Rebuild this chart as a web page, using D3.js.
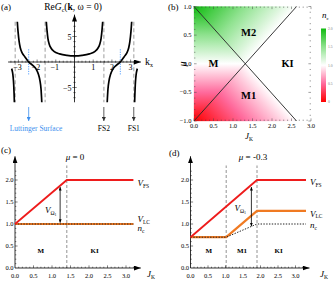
<!DOCTYPE html>
<html><head><meta charset="utf-8">
<script src="https://cdn.jsdelivr.net/npm/d3@7"></script>
<style>
body{margin:0;background:#fff}
svg{display:block;font-family:"Liberation Serif","Times New Roman",serif}
</style>
</head><body>
<svg id="c" width="336" height="282"></svg>
<script>
// ---------------- DATA ----------------
// Panel (a): Re G_c(k, w=0) branches (k, value)
const kCenter = [-1.52,-1.47,-1.42,-1.35,-1.25,-1.1,-0.8,-0.4,0,0.4,0.8,1.1,1.25,1.35,1.42,1.47,1.52];
const gCenter = [8.5,6.2,4.6,3.5,2.7,2.1,1.6,1.3,1.2,1.3,1.6,2.1,2.7,3.5,4.6,6.2,8.5];
const kLeftInner = [-3.07,-3.02,-2.96,-2.9,-2.8,-2.65,-2.45,-2.25,-2.05,-1.93,-1.85,-1.79,-1.74];
const gLeftInner = [8.5,6.0,4.0,2.8,1.8,1.0,0,-0.6,-1.4,-2.4,-3.6,-5.3,-8.5];
const kRightInner = [1.74,1.79,1.85,1.93,2.05,2.25,2.45,2.65,2.8,2.9,2.96,3.02,3.07];
const gRightInner = [-8.5,-5.3,-3.6,-2.4,-1.4,-0.6,0,1.0,1.8,2.8,4.0,6.0,8.5];
const kLeftOuter = [-3.36,-3.31,-3.28,-3.25,-3.23,-3.21];
const gLeftOuter = [-1.3,-2.1,-3.0,-4.5,-6.2,-8.5];
const kRightOuter = [3.21,3.23,3.25,3.28,3.31,3.36];
const gRightOuter = [-8.5,-6.2,-4.5,-3.0,-2.1,-1.3];
const kPoles = [-3.17,-1.57,1.57,3.17];
const kZeros = [-2.45,2.45];
const kTicksA = [-3,-2,-1,1,2,3];
const gTicksA = [5,-5];
const surfaceLabels = [
  {k:-2.45, text:"Luttinger Surface", blue:true},
  {k:1.57, text:"FS2", blue:false},
  {k:3.17, text:"FS1", blue:false}
];

// Panel (b): phase diagram, regions with n_c at their corners
const regionNames = ["M","M2","M1"];
const regionJ = [[0,1.315,0],[0,2.63,1.315],[0,1.315,2.63]];
const regionMu = [[1,0,-1],[1,1,0],[-1,0,-1]];
const regionNc = [[2,1,0],[2,1,1],[0,1,1]];
const boundaryJ = [[0,2.63],[0,2.63]];
const boundaryMu = [[1,-1],[-1,1]];
const phaseLabels = ["M2","M","KI","M1"];
const phaseLabelJ = [1.4,0.5,2.4,1.4];
const phaseLabelMu = [0.55,0,0,-0.55];
const ncStops = [0,0.5,1,1.5,2];
const ncColors = ["#ff0000","#ff6a9c","#ffffff","#8fe28f","#10bb10"];
const cbarTicks = ["0","0.5","1.0","1.5","2.0"];
const jTicks = [0,0.5,1,1.5,2,2.5,3];
const muTicks = [-1,-0.5,0,0.5,1];
const vTicks = [0,0.5,1,1.5,2];

// Panel (c): mu = 0
const jFS_c = [0,1.4,3.2], vFS_c = [1,2,2];
const jLC_c = [0,3.2], vLC_c = [1,1];
const jNc_c = [0,3.2], nc_c = [1,1];
const jTrans_c = [1.4];
const arrow_c = {j:1.22, from:1.84, to:1.03};
const phases_c = ["M","KI"], phasesJ_c = [0.7,2.15];

// Panel (d): mu = -0.3
const jFS_d = [0,1.9,3.3], vFS_d = [0.7,2,2];
const jLC_d = [0,1.02,1.9,3.3], vLC_d = [0.7,0.7,1.3,1.3];
const jNc_d = [0,1.02,1.9,3.3], nc_d = [0.7,0.7,1.0,1.0];
const jTrans_d = [1.02,1.9];
const arrow_d = {j:1.74, from:1.84, to:0.95};
const phases_d = ["M","M1","KI"], phasesJ_d = [0.52,1.47,2.52];

// ---------------- DRAWING ----------------
const svg = d3.select("#c");
const defs = svg.append("defs");
function marker(id, len, wid, color){
  defs.append("marker").attr("id",id).attr("viewBox",`0 0 ${len} ${wid}`)
    .attr("refX",len).attr("refY",wid/2).attr("markerWidth",len).attr("markerHeight",wid)
    .attr("markerUnits","userSpaceOnUse").attr("orient","auto-start-reverse")
    .append("path").attr("d",`M0,0 L${len},${wid/2} L0,${wid} z`).attr("fill",color);
}
marker("axh",7,5,"#000");
marker("sah",3.5,3,"#000");
marker("bah",4,4,"#3d8fee");
marker("kah",4,4,"#333");

function txt(x,y,html,size,anchor,attrs){
  const t = svg.append("text").attr("x",x).attr("y",y).attr("font-size",size)
    .attr("text-anchor",anchor||"start").html(html);
  if(attrs) for(const k in attrs) t.attr(k,attrs[k]);
  return t;
}
const zip = (a,b)=>a.map((v,i)=>[v,b[i]]);

// ===== Panel (a) =====
const xA = d3.scaleLinear().domain([0,1]).range([74.5,93.2]);
const yA = d3.scaleLinear().domain([0,5]).range([62,36.5]);
txt(1,10,"(a)",9);
txt(73,10,'Re<tspan font-style="italic">G</tspan><tspan font-size="6" dy="2">c</tspan><tspan dy="-2">(</tspan><tspan font-weight="bold">k</tspan>, ω = 0)',9.5,"middle");

svg.append("clipPath").attr("id","clipA").append("rect")
  .attr("x",0).attr("y",yA(7.9)).attr("width",168).attr("height",yA(-7.9)-yA(7.9));

// pole dashed lines
svg.append("g").selectAll("line").data(kPoles).join("line")
  .attr("x1",d=>xA(d)).attr("x2",d=>xA(d)).attr("y1",yA(7.9)).attr("y2",yA(-7.9))
  .attr("stroke","#b5b5b5").attr("stroke-width",1.3).attr("stroke-dasharray","4,2.5");
// zero dotted lines
svg.append("g").selectAll("line").data(kZeros).join("line")
  .attr("x1",d=>xA(d)).attr("x2",d=>xA(d)).attr("y1",yA(2.5)).attr("y2",yA(-2.5))
  .attr("stroke","#5aa2ff").attr("stroke-width",1).attr("stroke-dasharray","1.2,1.2");

// axes
svg.append("line").attr("x1",xA(-3.55)).attr("x2",xA(3.55)).attr("y1",yA(0)).attr("y2",yA(0))
  .attr("stroke","#000").attr("stroke-width",0.8).attr("marker-end","url(#axh)");
svg.append("line").attr("x1",xA(0)).attr("x2",xA(0)).attr("y1",yA(-7.9)).attr("y2",yA(9.3))
  .attr("stroke","#000").attr("stroke-width",0.8).attr("marker-end","url(#axh)");
const kMinor = d3.range(-3.4,3.41,0.2).filter(v=>Math.abs(v)>0.05);
svg.append("g").selectAll("line").data(kMinor).join("line")
  .attr("x1",d=>xA(d)).attr("x2",d=>xA(d))
  .attr("y1",d=>yA(0)-(Math.abs(d-Math.round(d))<0.01?2.5:1.3)).attr("y2",yA(0)+0.6)
  .attr("stroke","#000").attr("stroke-width",0.5);
const gMinor = d3.range(-7,8,1).filter(v=>v!==0);
svg.append("g").selectAll("line").data(gMinor).join("line")
  .attr("y1",d=>yA(d)).attr("y2",d=>yA(d))
  .attr("x1",d=>xA(0)-(Math.abs(d)===5?2.2:1.2)).attr("x2",d=>xA(0)+(Math.abs(d)===5?2.2:1.2))
  .attr("stroke","#000").attr("stroke-width",0.5);
kTicksA.forEach(k=>txt(xA(k)+(k<0?-1:0),yA(0)+8,(k<0?"−":"")+Math.abs(k),8,"middle"));
gTicksA.forEach(g=>txt(xA(0)-3,yA(g)+3,(g<0?"−":"")+Math.abs(g),8,"end"));
txt(145,65,'k<tspan font-size="6" dy="2">x</tspan>',10);

// curves
const lineA = d3.line().x(d=>xA(d[0])).y(d=>yA(d[1])).curve(d3.curveMonotoneX);
const gCurves = svg.append("g").attr("clip-path","url(#clipA)");
[[kCenter,gCenter],[kLeftInner,gLeftInner],[kRightInner,gRightInner],[kLeftOuter,gLeftOuter],[kRightOuter,gRightOuter]]
  .forEach(([k,g])=>gCurves.append("path").attr("d",lineA(zip(k,g)))
    .attr("fill","none").attr("stroke","#000").attr("stroke-width",1.7));

// arrows + labels below
surfaceLabels.forEach(s=>{
  const x = xA(s.k);
  svg.append("line").attr("x1",x).attr("x2",x).attr("y1",107).attr("y2",121)
    .attr("stroke",s.blue?"#3d8fee":"#333").attr("stroke-width",0.8)
    .attr("marker-end",s.blue?"url(#bah)":"url(#kah)");
  txt(s.blue?36:x,131,s.text,7.5,"middle",{fill:s.blue?"#3d8fee":"#000"});
});

// ===== Panel (b) =====
const xB = d3.scaleLinear().domain([0,3]).range([194,311]);
const yB = d3.scaleLinear().domain([-1,1]).range([121,6.5]);
const ncColor = d3.scaleLinear().domain(ncStops).range(ncColors).interpolate(d3.interpolateRgb);
txt(168,10,"(b)",9);

regionNames.forEach((name,ri)=>{
  const P = regionJ[ri].map((j,i)=>[xB(j),yB(regionMu[ri][i]),regionNc[ri][i]]);
  // solve plane f = a x + b y + c through three points
  const [p0,p1,p2] = P;
  const det = (p1[0]-p0[0])*(p2[1]-p0[1])-(p2[0]-p0[0])*(p1[1]-p0[1]);
  const a = ((p1[2]-p0[2])*(p2[1]-p0[1])-(p2[2]-p0[2])*(p1[1]-p0[1]))/det;
  const b = ((p2[2]-p0[2])*(p1[0]-p0[0])-(p1[2]-p0[2])*(p2[0]-p0[0]))/det;
  const vals = P.map(p=>p[2]);
  const vmin = d3.min(vals), vmax = d3.max(vals);
  const pm = P[vals.indexOf(vmin)];
  const n2 = a*a+b*b;
  const x2 = pm[0]+a*(vmax-vmin)/n2, y2 = pm[1]+b*(vmax-vmin)/n2;
  const gid = "grad"+name;
  const lg = defs.append("linearGradient").attr("id",gid).attr("gradientUnits","userSpaceOnUse")
    .attr("x1",pm[0]).attr("y1",pm[1]).attr("x2",x2).attr("y2",y2);
  d3.range(0,1.0001,0.05).forEach(t=>{
    lg.append("stop").attr("offset",t).attr("stop-color",ncColor(vmin+t*(vmax-vmin)));
  });
  svg.append("path").attr("d","M"+P.map(p=>p[0]+","+p[1]).join("L")+"Z")
    .attr("fill",`url(#${gid})`).attr("stroke",`url(#${gid})`).attr("stroke-width",0.3);
});
// boundary lines
boundaryJ.forEach((js,i)=>svg.append("line")
  .attr("x1",xB(js[0])).attr("y1",yB(boundaryMu[i][0])).attr("x2",xB(js[1])).attr("y2",yB(boundaryMu[i][1]))
  .attr("stroke","#222").attr("stroke-width",0.9));
phaseLabels.forEach((l,i)=>txt(xB(phaseLabelJ[i]),yB(phaseLabelMu[i])+3.5,l,10.5,"middle",{"font-weight":"bold"}));
// frame ticks
const tickB = svg.append("g").attr("stroke","#444").attr("stroke-width",0.5);
d3.range(0,3.001,0.1).forEach(j=>{
  const major = Math.abs(j*2-Math.round(j*2))<1e-6, L = major?2.6:1.4;
  tickB.append("line").attr("x1",xB(j)).attr("x2",xB(j)).attr("y1",yB(-1)).attr("y2",yB(-1)-L);
  tickB.append("line").attr("x1",xB(j)).attr("x2",xB(j)).attr("y1",yB(1)).attr("y2",yB(1)+L);
});
d3.range(-1,1.001,0.1).forEach(m=>{
  const major = Math.abs(m*2-Math.round(m*2))<1e-6, L = major?2.6:1.4;
  tickB.append("line").attr("y1",yB(m)).attr("y2",yB(m)).attr("x1",xB(0)).attr("x2",xB(0)+L);
  tickB.append("line").attr("y1",yB(m)).attr("y2",yB(m)).attr("x1",xB(3)).attr("x2",xB(3)-L);
});
jTicks.forEach(j=>txt(xB(j),128,d3.format(".1f")(j),6.5,"middle"));
muTicks.forEach(m=>txt(xB(0)-2.5,yB(m)+2,d3.format(".1f")(m).replace("-","−"),6.5,"end"));
txt(186,64,'μ',10,"middle",{"font-style":"italic",transform:"rotate(-90,186,64)"});
txt(249,139,'<tspan font-style="italic">J</tspan><tspan font-size="5.5" dy="1.5">K</tspan>',9,"middle");
// colorbar
const cb = defs.append("linearGradient").attr("id","cbar").attr("x1",0).attr("x2",0).attr("y1",1).attr("y2",0);
d3.range(0,1.0001,0.05).forEach(t=>cb.append("stop").attr("offset",t).attr("stop-color",ncColor(2*t)));
const yCb = d3.scaleLinear().domain([0,2]).range([102,28.5]);
svg.append("rect").attr("x",321).attr("y",yCb(2)).attr("width",5).attr("height",yCb(0)-yCb(2)).attr("fill","url(#cbar)");
cbarTicks.forEach(s=>txt(328,yCb(+s)+1.3,s,3.6,"start",{fill:"#777"}));
txt(322,18,'<tspan font-style="italic">n</tspan><tspan font-size="5" dy="1.5">c</tspan>',9,"start");

// ===== Panels (c) and (d) =====
function panel(cfg){
  const x = d3.scaleLinear().domain([0,3]).range(cfg.xr);
  const y = d3.scaleLinear().domain([0,2]).range([268,180]);
  txt(cfg.lx,cfg.ly,cfg.label,9);
  txt(cfg.tx,160,cfg.title,9,"middle");
  // transition lines
  cfg.trans.forEach(j=>svg.append("line").attr("x1",x(j)).attr("x2",x(j)).attr("y1",y(0)).attr("y2",y(2.33))
    .attr("stroke","#777").attr("stroke-width",0.8).attr("stroke-dasharray","3,2"));
  // axes
  svg.append("line").attr("x1",x(0)).attr("x2",x(3.4)).attr("y1",y(0)).attr("y2",y(0))
    .attr("stroke","#000").attr("stroke-width",0.8).attr("marker-end","url(#axh)");
  svg.append("line").attr("x1",x(0)).attr("x2",x(0)).attr("y1",y(0)).attr("y2",y(2.54))
    .attr("stroke","#000").attr("stroke-width",0.8).attr("marker-end","url(#axh)");
  const tk = svg.append("g").attr("stroke","#000").attr("stroke-width",0.5);
  d3.range(0.1,3.201,0.1).forEach(j=>{
    const major = Math.abs(j*2-Math.round(j*2))<1e-6;
    tk.append("line").attr("x1",x(j)).attr("x2",x(j)).attr("y1",y(0)).attr("y2",y(0)-(major?2.6:1.3));
  });
  d3.range(0.1,2.201,0.1).forEach(v=>{
    const major = Math.abs(v*2-Math.round(v*2))<1e-6;
    tk.append("line").attr("y1",y(v)).attr("y2",y(v)).attr("x1",x(0)).attr("x2",x(0)+(major?2.6:1.3));
  });
  jTicks.forEach(j=>txt(x(j),277.5,d3.format(".1f")(j),6.5,"middle"));
  vTicks.forEach(v=>txt(x(0)-1.5,y(v)+2,d3.format(".1f")(v),6.5,"end"));
  txt(cfg.jkx,277,'<tspan font-style="italic">J</tspan><tspan font-size="5.5" dy="1.5">K</tspan>',9,"start");
  const ln = d3.line().x(d=>x(d[0])).y(d=>y(d[1]));
  svg.append("path").attr("d",ln(zip(cfg.jLC,cfg.vLC))).attr("fill","none").attr("stroke","#f07a22").attr("stroke-width",2.2);
  svg.append("path").attr("d",ln(zip(cfg.jNc,cfg.nc))).attr("fill","none").attr("stroke","#222").attr("stroke-width",1).attr("stroke-dasharray","1.4,1.4");
  svg.append("path").attr("d",ln(zip(cfg.jFS,cfg.vFS))).attr("fill","none").attr("stroke","#ee1c1c").attr("stroke-width",1.8);
  // double arrow
  svg.append("line").attr("x1",x(cfg.arrow.j)).attr("x2",x(cfg.arrow.j)).attr("y1",y(cfg.arrow.from)).attr("y2",y(cfg.arrow.to))
    .attr("stroke","#000").attr("stroke-width",0.8).attr("marker-start","url(#sah)").attr("marker-end","url(#sah)");
  txt(cfg.vox,cfg.voy,'<tspan font-style="italic">V</tspan><tspan font-size="5.5" dy="1.5">Ω</tspan><tspan font-size="4" dy="1">1</tspan>',9,"start");
  const last = x(d3.max(cfg.jFS))+4;
  txt(last,cfg.ry[0],'<tspan font-style="italic">V</tspan><tspan font-size="5.5" dy="1.5">FS</tspan>',9,"start");
  txt(last,cfg.ry[1],'<tspan font-style="italic">V</tspan><tspan font-size="5.5" dy="1.5">LC</tspan>',9,"start");
  txt(last,cfg.ry[2],'<tspan font-style="italic">n</tspan><tspan font-size="5.5" dy="1.5">c</tspan>',9,"start");
  cfg.phases.forEach((p,i)=>txt(x(cfg.phasesJ[i]),253,p,7,"middle",{"font-weight":"bold"}));
}
panel({xr:[15,126], lx:1, ly:153, label:"(c)", tx:75, title:'<tspan font-style="italic">μ</tspan> = 0',
  trans:jTrans_c, jLC:jLC_c, vLC:vLC_c, jNc:jNc_c, nc:nc_c, jFS:jFS_c, vFS:vFS_c,
  arrow:arrow_c, vox:45, voy:213, ry:[186,222,231], jkx:147, phases:phases_c, phasesJ:phasesJ_c});
panel({xr:[190.5,295.5], lx:169, ly:156, label:"(d)", tx:253, title:'<tspan font-style="italic">μ</tspan> = -0.3',
  trans:jTrans_d, jLC:jLC_d, vLC:vLC_d, jNc:jNc_d, nc:nc_d, jFS:jFS_d, vFS:vFS_d,
  arrow:arrow_d, vox:234.5, voy:211, ry:[185,216.5,228], jkx:320, phases:phases_d, phasesJ:phasesJ_d});
</script>
</body></html>
